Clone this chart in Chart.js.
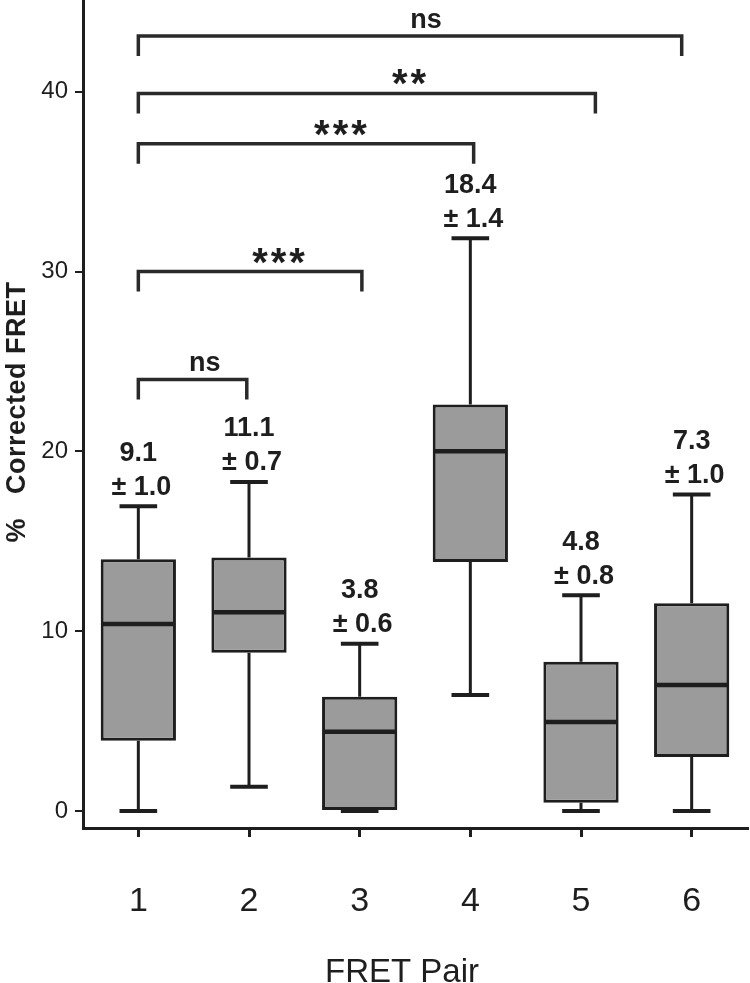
<!DOCTYPE html>
<html>
<head>
<meta charset="utf-8">
<script src="https://cdn.jsdelivr.net/npm/chart.js@4"></script>
<style>
  html, body { margin: 0; padding: 0; background: #fff; }
  #wrap { width: 750px; height: 983px; }
</style>
</head>
<body>
<div id="wrap"><canvas id="fretChart" width="750" height="983"></canvas></div>
<script>
// FRET pair box plots
const categories = ["1", "2", "3", "4", "5", "6"];
const whiskerLow = [0, 1.35, 0, 6.45, 0, 0];
const q1 = [3.9, 8.8, 0, 13.85, 0.45, 3.0];
const median = [10.4, 11.05, 4.4, 20.0, 4.95, 7.0];
const q3 = [14.0, 14.1, 6.35, 22.6, 8.3, 11.55];
const whiskerHigh = [16.95, 18.3, 9.3, 31.85, 12.0, 17.6];
const meanText = ["9.1", "11.1", "3.8", "18.4", "4.8", "7.3"];
const semText = ["1.0", "0.7", "0.6", "1.4", "0.8", "1.0"];
const yTicks = [0, 10, 20, 30, 40];

// significance brackets (category index from/to, y level, text)
const bracketFrom = [0, 0, 0, 0, 0];
const bracketTo = [0.98, 2.02, 3.03, 4.13, 4.91];
const bracketLevel = [24.0, 30.0, 37.1, 39.9, 43.1];
const bracketText = ["ns", "***", "***", "**", "ns"];
const bracketTextAt = [0.6, 1.28, 1.84, 2.46, 2.6];

const ink = "#1e1e1e";
Chart.defaults.font.family = 'Arial, "Liberation Sans", sans-serif';
Chart.defaults.color = ink;

// draw text so its ink is vertically centred on cy
function inkText(ctx, t, cx, cy) {
  const m = ctx.measureText(t);
  ctx.fillText(t, cx, cy + (m.actualBoundingBoxAscent - m.actualBoundingBoxDescent) / 2);
}

const boxParts = {
  id: "boxParts",
  beforeDatasetsDraw(chart) {
    const { ctx, scales: { x, y } } = chart;
    const meta = chart.getDatasetMeta(0);
    ctx.save();
    ctx.strokeStyle = ink;
    categories.forEach((c, i) => {
      const cx = x.getPixelForValue(i);
      const half = meta.data[i].width * 0.25;
      ctx.lineWidth = 3;
      ctx.beginPath();
      ctx.moveTo(cx, y.getPixelForValue(whiskerLow[i]));
      ctx.lineTo(cx, y.getPixelForValue(q1[i]));
      ctx.moveTo(cx, y.getPixelForValue(q3[i]));
      ctx.lineTo(cx, y.getPixelForValue(whiskerHigh[i]));
      ctx.stroke();
      ctx.lineWidth = 4;
      ctx.beginPath();
      [whiskerLow[i], whiskerHigh[i]].forEach(v => {
        const py = y.getPixelForValue(v);
        ctx.moveTo(cx - half, py);
        ctx.lineTo(cx + half, py);
      });
      ctx.stroke();
    });
    ctx.restore();
  },
  afterDatasetsDraw(chart) {
    const { ctx, scales: { x, y } } = chart;
    const meta = chart.getDatasetMeta(0);
    ctx.save();
    // medians
    ctx.strokeStyle = ink;
    ctx.lineWidth = 4.5;
    categories.forEach((c, i) => {
      const bar = meta.data[i];
      const py = y.getPixelForValue(median[i]);
      ctx.beginPath();
      ctx.moveTo(bar.x - bar.width / 2 + 1, py);
      ctx.lineTo(bar.x + bar.width / 2 - 1, py);
      ctx.stroke();
    });
    // mean +- sem labels
    ctx.fillStyle = ink;
    ctx.textAlign = "center";
    ctx.textBaseline = "alphabetic";
    ctx.font = "bold 27px Arial, 'Liberation Sans', sans-serif";
    categories.forEach((c, i) => {
      const cx = x.getPixelForValue(i);
      const top = y.getPixelForValue(whiskerHigh[i]);
      inkText(ctx, meanText[i], cx, top - 55);
      inkText(ctx, "\u00b1 " + semText[i], cx + 3, top - 21);
    });
    // brackets
    ctx.strokeStyle = "#2a2a2a";
    bracketText.forEach((t, k) => {
      const x0 = x.getPixelForValue(bracketFrom[k]);
      const x1 = x.getPixelForValue(bracketTo[k]);
      const py = y.getPixelForValue(bracketLevel[k]);
      ctx.lineWidth = 3.5;
      ctx.beginPath();
      ctx.moveTo(x0, py + 20);
      ctx.lineTo(x0, py);
      ctx.lineTo(x1, py);
      ctx.lineTo(x1, py + 20);
      ctx.stroke();
      const tx = x.getPixelForValue(bracketTextAt[k]);
      if (t === "ns") {
        ctx.font = "bold 27px Arial, 'Liberation Sans', sans-serif";
      } else {
        ctx.font = "bold 40px Arial, 'Liberation Sans', sans-serif";
        ctx.letterSpacing = "3px";
      }
      const m = ctx.measureText(t);
      ctx.fillText(t, tx, py - 8 - m.actualBoundingBoxDescent);
      ctx.letterSpacing = "0px";
    });
    ctx.restore();
  },
  afterDraw(chart) {
    const { ctx } = chart;
    ctx.save();
    ctx.fillStyle = ink;
    ctx.textAlign = "center";
    ctx.font = "33px Arial, 'Liberation Sans', sans-serif";
    inkText(ctx, "FRET Pair", 402, 970);
    ctx.translate(15, 412);
    ctx.rotate(-Math.PI / 2);
    ctx.font = "bold 27px Arial, 'Liberation Sans', sans-serif";
    ctx.letterSpacing = "0.5px";
    inkText(ctx, "%   Corrected FRET", 0, 0);
    ctx.restore();
  }
};

const ctx = document.getElementById("fretChart").getContext("2d");

const myChart = new Chart(ctx, {
  type: "bar",
  data: {
    labels: categories,
    datasets: [
      {
        data: categories.map((c, i) => [q1[i], q3[i]]),
        backgroundColor: "#9b9b9b",
        borderColor: ink,
        borderWidth: 3,
        borderSkipped: false,
        barPercentage: 0.68,
        categoryPercentage: 1
      }
    ]
  },
  options: {
    responsive: false,
    animation: false,
    devicePixelRatio: 1,
    layout: { padding: { top: 0, right: 3, bottom: 0, left: 0 } },
    plugins: {
      legend: { display: false },
      tooltip: { enabled: false }
    },
    scales: {
      x: {
        offset: true,
        grid: {
          offset: false,
          drawOnChartArea: false,
          drawTicks: true,
          tickLength: 9,
          color: ink,
          lineWidth: 3
        },
        border: { display: true, color: ink, width: 3 },
        ticks: { font: { size: 34 }, color: ink, padding: 44 },
        afterFit(scale) {
          scale.height = 155;
          scale.paddingLeft = 0;
          scale.paddingRight = 0;
        }
      },
      y: {
        min: -0.95,
        max: 45.1,
        grid: {
          drawOnChartArea: false,
          drawTicks: true,
          tickLength: 8,
          color: ink,
          lineWidth: 2
        },
        border: { display: true, color: ink, width: 3 },
        ticks: { font: { size: 24 }, color: ink, padding: 7 },
        afterBuildTicks(scale) { scale.ticks = yTicks.map(v => ({ value: v })); },
        afterFit(scale) {
          scale.width = 83;
          scale.paddingTop = 0;
          scale.paddingBottom = 0;
        }
      }
    }
  },
  plugins: [boxParts]
});
</script>
</body>
</html>
